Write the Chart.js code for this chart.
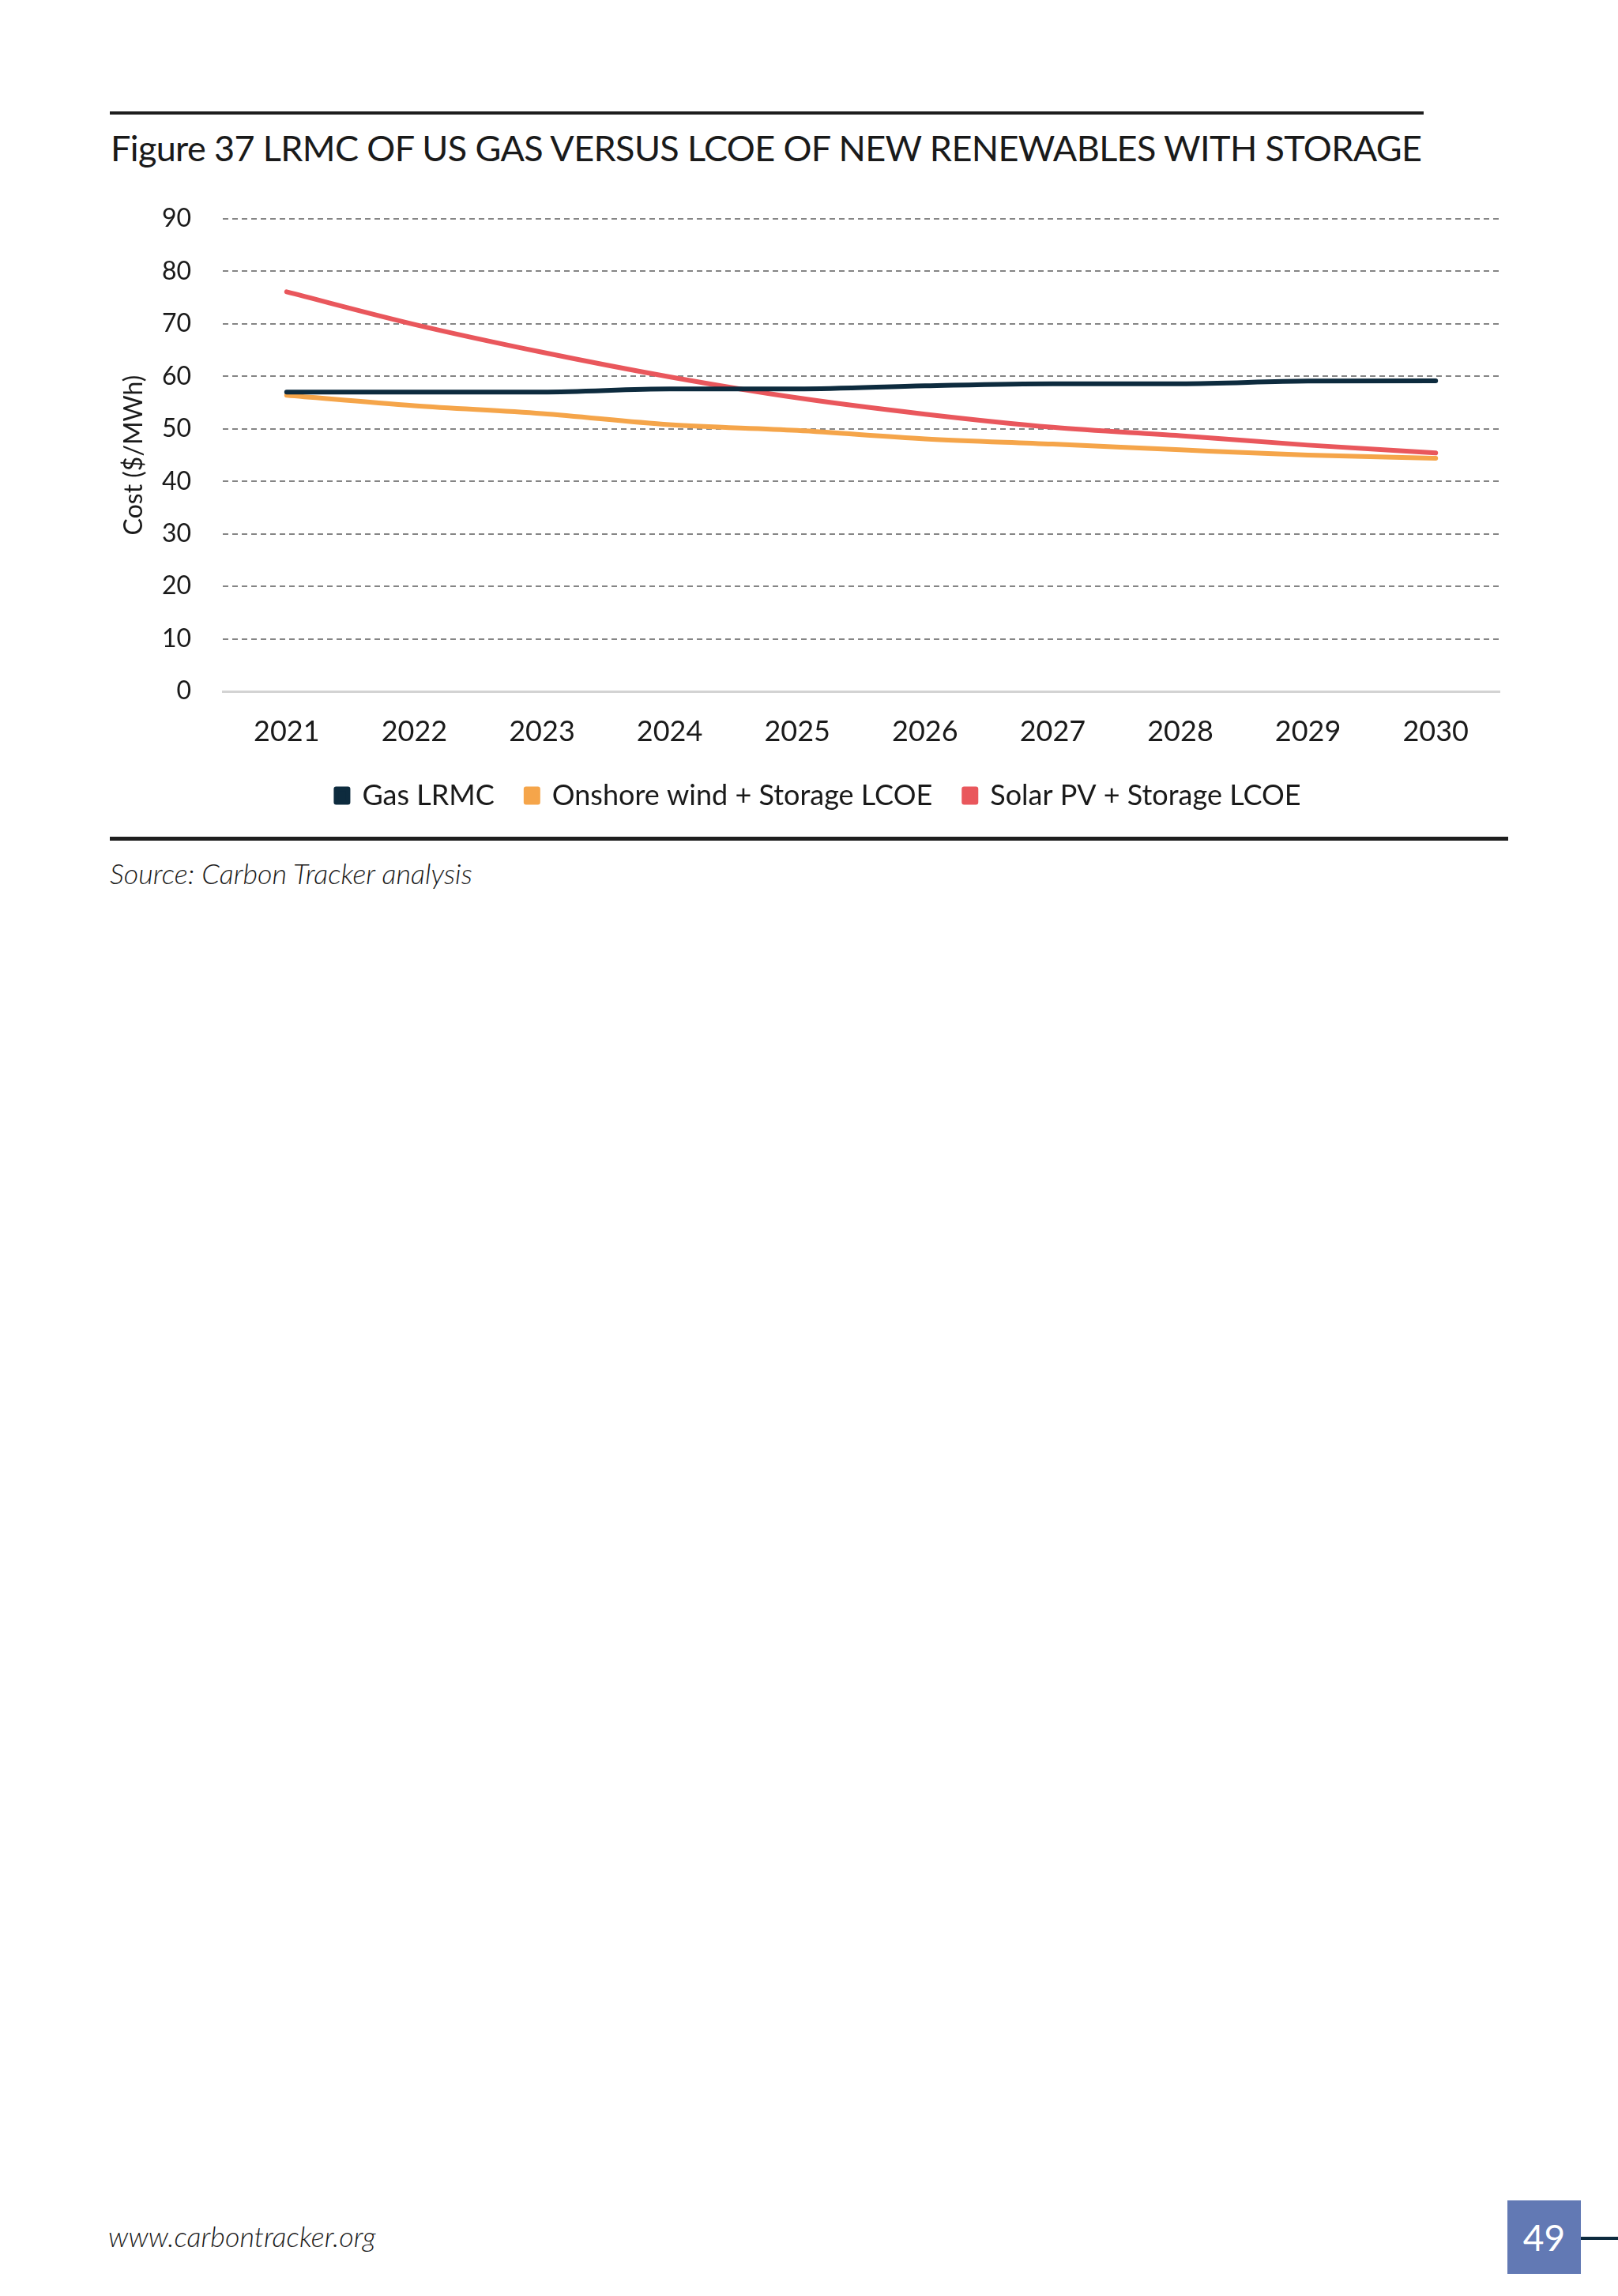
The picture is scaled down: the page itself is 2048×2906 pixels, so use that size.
<!DOCTYPE html>
<html>
<head>
<meta charset="utf-8">
<script src="https://cdn.jsdelivr.net/npm/chart.js@4.4.1/dist/chart.umd.min.js"></script>
<style>
  html, body { margin: 0; padding: 0; background: #fff; }
  body { width: 2048px; height: 2906px; position: relative; font-family: Lato, "Noto Sans", sans-serif; color: #1a1a1a; }
  .rule { position: absolute; background: #1e1e1e; }
  .txt { position: absolute; white-space: nowrap; }
  #title { left: 140px; top: 160px; font-size: 45px; line-height: 54px; }
  #source { left: 139px; top: 1084px; font-size: 36px; line-height: 42px; font-style: italic; font-weight: 300; }
  #footer { left: 137px; top: 2809px; font-size: 36px; line-height: 42px; font-style: italic; font-weight: 300; }
  #pageno { position: absolute; left: 1908px; top: 2785px; width: 93px; height: 93px; background: #6279b4;
            color: #fff; font-size: 46px; display: flex; align-items: center; justify-content: center; }
  #pageline { position: absolute; left: 2001px; top: 2831px; width: 47px; height: 4px; background: #0d2b3e; }
  #wrap { position: absolute; left: 140px; top: 240px; width: 1832px; height: 795px; }
</style>
</head>
<body>
<div class="rule" style="left:139px;top:141px;width:1663px;height:4px;"></div>
<div class="txt" id="title">Figure 37 LRMC OF US GAS VERSUS LCOE OF NEW RENEWABLES WITH STORAGE</div>
<div id="wrap"><canvas id="chart"></canvas></div>
<div class="rule" style="left:139px;top:1059px;width:1770px;height:5px;"></div>
<div class="txt" id="source">Source: Carbon Tracker analysis</div>
<div class="txt" id="footer">www.carbontracker.org</div>
<div id="pageno">49</div>
<div id="pageline"></div>

<script>
// data
const years = ['2021', '2022', '2023', '2024', '2025', '2026', '2027', '2028', '2029', '2030'];
const gasLrmc = [57.0, 57.0, 57.0, 57.6, 57.6, 58.2, 58.6, 58.6, 59.1, 59.15];
const windStorage = [56.4, 54.4, 52.9, 50.8, 49.7, 48.1, 47.1, 46.0, 45.0, 44.4];
const solarStorage = [76.1, 69.9, 64.6, 59.9, 55.9, 52.8, 50.3, 48.7, 46.9, 45.4];
const seriesNames = ['Gas LRMC', 'Onshore wind + Storage LCOE', 'Solar PV + Storage LCOE'];
const yTicks = [0, 10, 20, 30, 40, 50, 60, 70, 80, 90];

// stretch the title to the width of the rule above it
const title = document.getElementById('title');
const extra = 1660 - title.getBoundingClientRect().width;
title.style.letterSpacing = (extra / (title.textContent.length - 1)) + 'px';

const FONT = 'Lato, "Noto Sans", sans-serif';
const INK = '#1a1a1a';

const ctx = document.getElementById('chart');
new Chart(ctx, {
  type: 'line',
  data: {
    labels: years,
    datasets: [
      { label: seriesNames[0], data: gasLrmc, borderColor: '#0d2b3e', backgroundColor: '#0d2b3e' },
      { label: seriesNames[1], data: windStorage, borderColor: '#f5a54a', backgroundColor: '#f5a54a' },
      { label: seriesNames[2], data: solarStorage, borderColor: '#e9575c', backgroundColor: '#e9575c' }
    ]
  },
  options: {
    responsive: true,
    maintainAspectRatio: false,
    animation: false,
    // left padding + narrow y axis keeps the legend centred where the original has it
    layout: { padding: { top: 37, right: 74, left: 34, bottom: 0 } },
    elements: {
      line: { borderWidth: 6, cubicInterpolationMode: 'monotone', borderCapStyle: 'round', borderJoinStyle: 'round' },
      point: { radius: 0, hoverRadius: 0 }
    },
    scales: {
      x: {
        offset: true,
        grid: { display: false, drawTicks: false },
        border: { display: true, color: '#d3d3d3', width: 3 },
        ticks: { color: INK, font: { family: FONT, size: 36 }, padding: 30, maxRotation: 0 },
        afterFit: s => { s.height = 74; }
      },
      y: {
        min: 0,
        max: 90,
        afterBuildTicks: s => { s.ticks = yTicks.map(v => ({ value: v })); },
        grid: { color: '#858585', lineWidth: 2, drawTicks: false },
        border: { display: false, dash: [7, 5] },
        ticks: { color: INK, font: { family: FONT, size: 32 }, padding: 40 },
        title: { display: true, text: 'Cost ($/MWh)', color: INK, font: { family: FONT, size: 32 }, padding: { top: -24, bottom: 0 } },
        // fixed axis width; the tick padding should not push the plot down
        afterFit: s => { s.width = 108; s.paddingTop = 0; s.paddingBottom = 0; }
      }
    },
    plugins: {
      legend: {
        position: 'bottom',
        labels: { color: INK, font: { family: FONT, size: 36 }, boxWidth: 15, boxHeight: 17, padding: 40 }
      },
      tooltip: { enabled: false }
    }
  }
});
</script>
</body>
</html>
